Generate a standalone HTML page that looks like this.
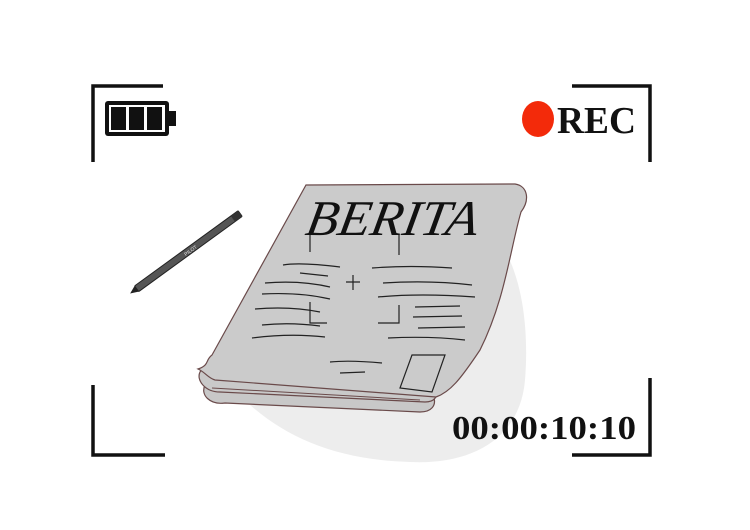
<!DOCTYPE html>
<html><head><meta charset="utf-8"><style>
html,body{margin:0;padding:0;background:#fff;}
svg{display:block}
</style></head><body>
<svg width="750" height="530" viewBox="0 0 750 530" xmlns="http://www.w3.org/2000/svg">
<rect width="750" height="530" fill="#fff"/>
<g stroke="#111" stroke-width="3.5" fill="none">
<path d="M93 162 V86 H163"/>
<path d="M572 86 H650 V162"/>
<path d="M93 385 V455 H165"/>
<path d="M572 455 H650 V378"/>
</g>
<rect x="105" y="101" width="64" height="35" rx="3" fill="#111"/>
<rect x="109" y="105" width="56" height="27" fill="#fff"/>
<rect x="111" y="107" width="15" height="23" fill="#111"/>
<rect x="129" y="107" width="15" height="23" fill="#111"/>
<rect x="147" y="107" width="15" height="23" fill="#111"/>
<rect x="169" y="111" width="7" height="15" fill="#111"/>
<ellipse cx="538" cy="119" rx="16" ry="18" fill="#f32a0a"/>
<text x="557" y="133" font-family="Liberation Serif, serif" font-weight="bold" font-size="38" fill="#111" textLength="79" lengthAdjust="spacingAndGlyphs">REC</text>
<path d="M470 215 C520 240 530 320 525 380 C520 440 470 465 410 462 C340 460 290 440 250 405 L430 408 Z" fill="#ededed"/>
<g transform="rotate(-36 190 250)">
<rect x="124" y="246.5" width="128" height="7" rx="1" fill="#555" stroke="#222" stroke-width="1"/>
<rect x="243" y="246.5" width="9" height="7" fill="#333"/>
<path d="M124 246.5 L116 250 L124 253.5 Z" fill="#222"/>
<text x="183" y="252.5" font-family="Liberation Sans, sans-serif" font-size="5" fill="#ddd">PILOT</text>
</g>
<path d="M205 385 C200 395 210 405 225 403 L420 412 C432 412 436 405 434 398 L210 380 Z" fill="#c8c8c8" stroke="#6a4a4a" stroke-width="1.2"/>
<path d="M200 372 C196 380 205 392 220 392 L425 402 C435 402 438 396 436 390 L205 366 Z" fill="#c9c9c9" stroke="#6a4a4a" stroke-width="1.2"/>
<path d="M306 185 L515 184 C528 186 530 200 521 212 C510 250 505 300 480 350 C460 380 450 392 436 397 L215 380 C208 378 205 372 198 369 C210 365 205 360 212 355 Z" fill="#cbcbcb" stroke="#6a4a4a" stroke-width="1.2"/>
<text x="0" y="0" font-family="Liberation Serif, serif" font-style="italic" font-size="50" fill="#111" transform="translate(304 235) skewX(-10)" textLength="172" lengthAdjust="spacingAndGlyphs">BERITA</text>
<g stroke="#222" stroke-width="1.2" fill="none">
<path d="M310 235 V252 M399 235 V255"/>
<path d="M310 302 V323 H327 M378 323 H399 V305"/>
<path d="M346 282 H360 M353 275 V290"/>
<path d="M283 265 Q300 262 340 267"/>
<path d="M300 273 L328 276"/>
<path d="M265 283 Q300 280 330 287"/>
<path d="M262 294 Q300 292 330 299"/>
<path d="M255 309 Q290 306 320 312"/>
<path d="M262 325 Q290 322 320 326"/>
<path d="M252 338 Q290 333 325 337"/>
<path d="M372 268 Q410 265 452 268"/>
<path d="M383 283 Q430 280 472 285"/>
<path d="M378 297 Q420 293 475 297"/>
<path d="M415 307 L460 306 M413 317 L462 316 M418 328 L465 327"/>
<path d="M388 338 Q430 336 465 340"/>
<path d="M330 362 Q350 360 382 363 M340 373 L365 372"/>
<path d="M412 355 L445 355 L432 392 L400 388 Z"/>
</g>
<path d="M212 388 L420 400" stroke="#6a4a4a" stroke-width="1" fill="none"/>
<text x="452" y="439" font-family="Liberation Serif, serif" font-weight="bold" font-size="34" fill="#111" textLength="184" lengthAdjust="spacingAndGlyphs">00:00:10:10</text>
</svg>
</body></html>
